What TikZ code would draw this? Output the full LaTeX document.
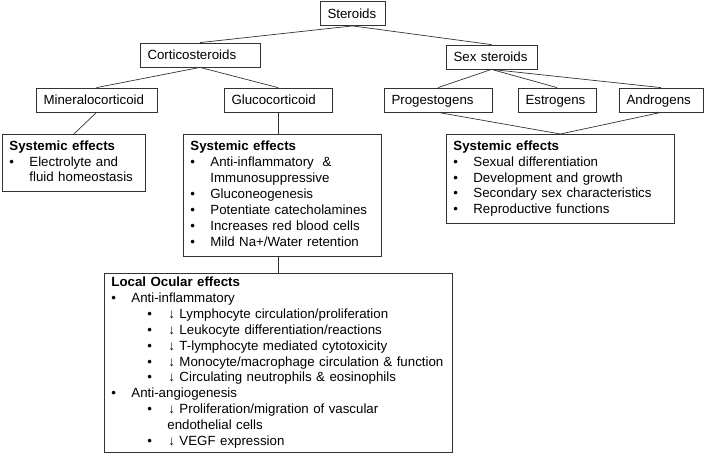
\documentclass[tikz,border=0pt]{standalone}
\usepackage{fontspec}
\setmainfont{Liberation Sans}
\usepackage{tikz}

\newcommand{\bul}[1]{\strut\makebox[20pt][l]{\textbullet}#1}
\newcommand{\bulcont}[1]{\strut\hspace*{20pt}#1}
\newcommand{\subbul}[1]{\strut\hspace*{36pt}\makebox[21pt][l]{\textbullet}↓ #1}
\newcommand{\subcont}[1]{\strut\hspace*{56pt}#1}
\newcommand{\head}[1]{\strut\textbf{#1}}

\begin{document}
\begin{tikzpicture}[x=1pt,y=-1pt,
        label box/.style={draw=black!80, line width=0.8pt, align=left,
            inner xsep=7.5pt, inner ysep=0pt, minimum height=24pt,
            text height=9.7pt, text depth=0pt, text width=#1},
        effect box/.style={draw=black!80, line width=0.8pt, align=left,
            anchor=north west, inner xsep=7pt, inner ysep=0pt, text width=#1},
        link/.style={draw=black!80, line width=0.7pt},
        font=\fontsize{13.3}{15.9}\selectfont]

            \useasboundingbox (0,0) rectangle (709,461);

            % classes
            \node[label box=50pt] (steroids) at (352.5,13.5) {Steroids};
            \node[label box=105pt] (cortico) at (200,55) {Corticosteroids};
            \node[label box=76pt] (sex) at (491.5,57) {Sex steroids};

            \node[label box=106pt] (mineralo) at (96.5,100) {Mineralocorticoid};
            \node[label box=93pt] (gluco) at (278,100) {Glucocorticoid};
            \node[label box=93pt] (progest) at (438,100) {Progestogens};
            \node[label box=63pt] (estro) at (557,100) {Estrogens};
            \node[label box=69pt] (andro) at (661,100) {Androgens};

            % effects
            \node[effect box=129pt, minimum height=57pt] (minsys) at (2,134)
                {\head{Systemic effects}\\
                 \bul{Electrolyte and}\\
                 \bulcont{fluid homeostasis}};

            \node[effect box=184pt, minimum height=122pt] (glusys) at (183,134)
                {\head{Systemic effects}\\
                 \bul{Anti-inflammatory \ \&}\\
                 \bulcont{Immunosuppressive}\\
                 \bul{Gluconeogenesis}\\
                 \bul{Potentiate catecholamines}\\
                 \bul{Increases red blood cells}\\
                 \bul{Mild Na+/Water retention}};

            \node[effect box=214pt, minimum height=89pt] (sexsys) at (446,134)
                {\head{Systemic effects}\\
                 \bul{Sexual differentiation}\\
                 \bul{Development and growth}\\
                 \bul{Secondary sex characteristics}\\
                 \bul{Reproductive functions}};

            \node[effect box=334pt, minimum height=179pt] (ocular) at (104,273)
                {\head{Local Ocular effects}\\
                 \bul{Anti-inflammatory}\\
                 \subbul{Lymphocyte circulation/proliferation}\\
                 \subbul{Leukocyte differentiation/reactions}\\
                 \subbul{T-lymphocyte mediated cytotoxicity}\\
                 \subbul{Monocyte/macrophage circulation \& function}\\
                 \subbul{Circulating neutrophils \& eosinophils}\\
                 \bul{Anti-angiogenesis}\\
                 \subbul{Proliferation/migration of vascular}\\
                 \subcont{endothelial cells}\\
                 \subbul{VEGF expression}};

            % connectors
            \draw[link] (steroids.south) -- (cortico.north);
            \draw[link] (steroids.south) -- (sex.north);

            \draw[link] (cortico.south) -- (mineralo.north);
            \draw[link] (cortico.south) -- (gluco.north);

            \draw[link] (sex.south) -- (progest.north);
            \draw[link] (sex.south) -- (estro.north);
            \draw[link] (sex.south) -- (andro.north);

            \draw[link] (mineralo.south) -- (minsys.north);
            \draw[link] (gluco.south) -- (gluco.south |- glusys.north);
            \draw[link] (progest.south) -- (sexsys.north);
            \draw[link] (andro.south) -- (sexsys.north);
            \draw[link] (ocular.north |- glusys.south) -- (ocular.north);
        \end{tikzpicture}
\end{document}
